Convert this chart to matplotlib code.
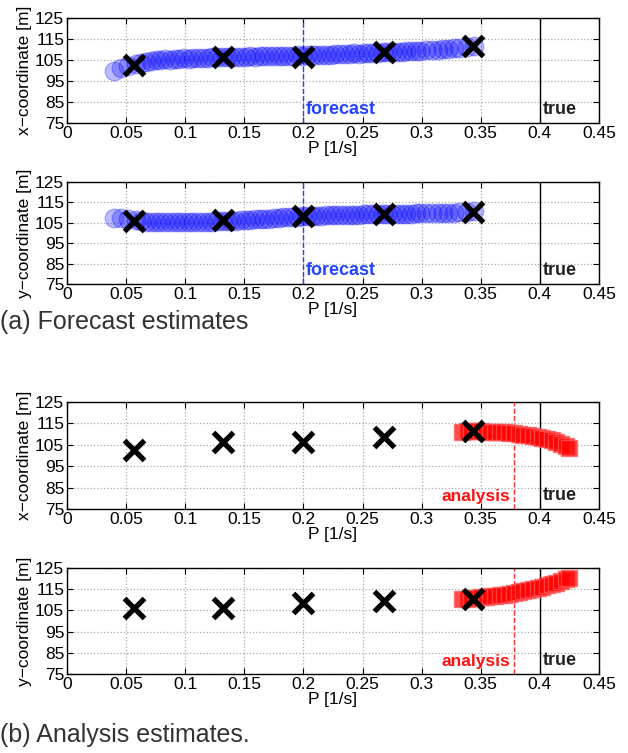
import matplotlib
matplotlib.use("Agg")
import matplotlib.pyplot as plt

plt.rcParams['font.family'] = ['Liberation Sans', 'DejaVu Sans']
plt.rcParams['font.size'] = 11

# observations (black crosses)
obs_p = [0.057, 0.132, 0.200, 0.268, 0.343]
obs_x = [102.8, 106.5, 106.5, 108.8, 111.5]
obs_y = [106.0, 106.2, 108.3, 109.3, 110.5]

# forecast ensemble (blue circles)
fc_p = [0.040, 0.046, 0.052, 0.058, 0.063, 0.067, 0.071, 0.075, 0.079, 0.083,
        0.087, 0.091, 0.095, 0.099, 0.103, 0.107, 0.111, 0.115, 0.119, 0.123,
        0.127, 0.131, 0.135, 0.139, 0.143, 0.147, 0.151, 0.155, 0.159, 0.163,
        0.167, 0.171, 0.175, 0.179, 0.183, 0.187, 0.191, 0.195, 0.199, 0.203,
        0.207, 0.211, 0.215, 0.219, 0.223, 0.227, 0.231, 0.235, 0.239, 0.243,
        0.247, 0.251, 0.255, 0.259, 0.263, 0.267, 0.271, 0.275, 0.279, 0.283,
        0.287, 0.291, 0.295, 0.299, 0.304, 0.309, 0.314, 0.318, 0.322, 0.327,
        0.332, 0.338, 0.344]
fc_x = [100.0, 101.0, 102.0, 103.0, 103.8, 104.2, 104.6, 104.9, 105.0, 105.3,
        105.2, 105.6, 105.5, 105.8, 105.7, 106.0, 105.9, 106.1, 106.0, 106.3,
        106.2, 106.4, 106.3, 106.5, 106.4, 106.6, 106.5, 106.7, 106.6, 106.8,
        106.7, 106.9, 106.8, 107.0, 106.9, 107.1, 107.0, 107.2, 107.1, 107.3,
        107.3, 107.5, 107.4, 107.6, 107.6, 107.8, 107.7, 107.9, 107.9, 108.1,
        108.0, 108.2, 108.2, 108.4, 108.4, 108.6, 108.6, 108.8, 108.8, 109.0,
        109.1, 109.2, 109.3, 109.5, 109.6, 109.8, 110.0, 110.1, 110.3, 110.5,
        110.7, 111.0, 111.5]
fc_y = [107.5, 107.2, 106.8, 106.2, 105.8, 105.6, 105.5, 105.4, 105.3, 105.3,
        105.2, 105.3, 105.2, 105.3, 105.3, 105.4, 105.4, 105.5, 105.5, 105.6,
        105.7, 105.8, 105.9, 106.0, 106.1, 106.2, 106.4, 106.5, 106.7, 106.8,
        107.0, 107.1, 107.3, 107.4, 107.6, 107.7, 107.9, 108.0, 108.1, 108.2,
        108.3, 108.4, 108.5, 108.6, 108.6, 108.7, 108.8, 108.9, 108.9, 109.0,
        109.0, 109.1, 109.1, 109.2, 109.2, 109.3, 109.3, 109.4, 109.4, 109.5,
        109.5, 109.5, 109.6, 109.6, 109.7, 109.8, 109.8, 109.9, 110.0, 110.0,
        110.1, 110.3, 110.6]

# analysis ensemble (red squares)
an_p = [0.334, 0.338, 0.342, 0.346, 0.350, 0.354, 0.358, 0.362, 0.366, 0.370,
        0.374, 0.378, 0.382, 0.386, 0.390, 0.394, 0.398, 0.402, 0.406, 0.410,
        0.414, 0.418, 0.422, 0.425]
an_x = [111.2, 111.3, 111.3, 111.3, 111.3, 111.2, 111.2, 111.1, 111.0, 110.8,
        110.6, 110.4, 110.1, 109.8, 109.5, 109.1, 108.7, 108.2, 107.7, 107.1,
        106.4, 105.6, 104.5, 103.3]
an_y = [110.2, 110.4, 110.7, 110.9, 111.2, 111.4, 111.7, 111.9, 112.2, 112.5,
        112.8, 113.2, 113.6, 114.0, 114.5, 115.0, 115.6, 116.2, 116.8, 117.4,
        118.1, 118.8, 119.6, 120.2]

xticks = [0, 0.05, 0.1, 0.15, 0.2, 0.25, 0.3, 0.35, 0.4, 0.45]
xticklabels = ['0', '0.05', '0.1', '0.15', '0.2', '0.25', '0.3', '0.35', '0.4', '0.45']
yticks = [75, 85, 95, 105, 115, 125]

t_forecast = 0.2
t_analysis = 0.378
t_true = 0.4

W, H = 628, 753
fig = plt.figure(figsize=(W / 100, H / 100), dpi=100)


def make_axes(top, bottom):
    return fig.add_axes([67 / W, (H - bottom) / H, 532 / W, (bottom - top) / H])


def style(ax, ylabel):
    ax.set_xlim(0, 0.45)
    ax.set_ylim(75, 125)
    ax.set_xticks(xticks)
    ax.set_xticklabels(xticklabels)
    ax.set_yticks(yticks)
    ax.grid(True, linestyle=':', color='#aaaaaa', linewidth=0.9)
    ax.tick_params(direction='in', length=4, width=0.8, labelsize=12.5, pad=2,
                   top=True, right=True)
    ax.set_xlabel('P [1/s]', fontsize=12.5, labelpad=0)
    ax.set_ylabel(ylabel, fontsize=12.5, labelpad=2)
    for s in ax.spines.values():
        s.set_linewidth(1.0)
    ax.set_axisbelow(True)


panels = [
    (18, 123, 'x\u2212coordinate [m]', obs_x, fc_x, 'forecast'),
    (182, 284, 'y\u2212coordinate [m]', obs_y, fc_y, 'forecast'),
    (402, 509, 'x\u2212coordinate [m]', obs_x, an_x, 'analysis'),
    (568, 674, 'y\u2212coordinate [m]', obs_y, an_y, 'analysis'),
]

for top, bottom, ylabel, obs, ens, kind in panels:
    ax = make_axes(top, bottom)
    style(ax, ylabel)
    if kind == 'forecast':
        ax.plot(fc_p, ens, 'o', ms=13.5, mfc=(0, 0, 1, 0.27), mec=(0, 0, 1, 0.3),
                mew=0.8, zorder=2)
        ax.axvline(t_forecast, color='#2244ff', ls='--', lw=1.0, zorder=1)
        ax.text(t_forecast + 0.002, 77.5, 'forecast', color='#2244ff',
                fontweight='bold', fontsize=13, ha='left', va='bottom')
    else:
        ax.plot(an_p, ens, 's', ms=12, mfc=(1, 0, 0, 0.7), mec=(1, 0.35, 0.35, 0.7),
                mew=1.0, zorder=2)
        ax.axvline(t_analysis, color='#ff3333', ls='--', lw=1.0, zorder=1)
        ax.text(t_analysis - 0.003, 77.5, 'analysis', color='#ff1111',
                fontweight='bold', fontsize=12.5, ha='right', va='bottom')
    ax.axvline(t_true, color='black', lw=1.0, zorder=1)
    ax.text(t_true + 0.002, 77.5, 'true', color='#222222',
            fontweight='bold', fontsize=13, ha='left', va='bottom')
    ax.plot(obs_p, obs, 'x', ms=14, mew=3.8, color='black', zorder=3)

fig.text(0.0, (H - 322) / H, '(a) Forecast estimates', fontsize=18,
         ha='left', va='center', color='#333333')
fig.text(0.0, (H - 735) / H, '(b) Analysis estimates.', fontsize=18,
         ha='left', va='center', color='#333333')

fig.savefig('out.png', dpi=100)
